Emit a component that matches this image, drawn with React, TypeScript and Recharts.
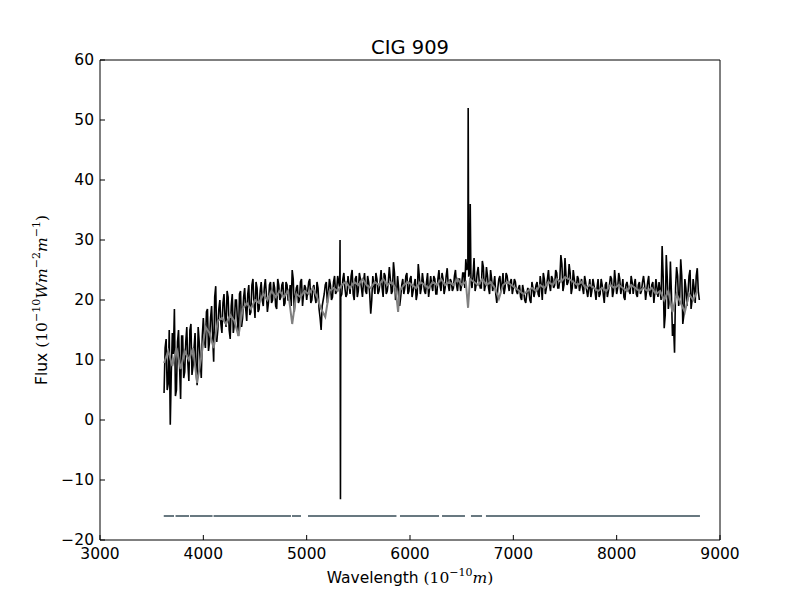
import { Line, LineChart, XAxis, YAxis } from "recharts";

// Spectrum of CIG 909: observed flux (black), smoothed fit (gray) and the
// mask bar along the bottom showing which wavelength ranges were used.

const BLACK_START = 3620;
const BLACK_STEP = 20;
// observed flux, one value every 20 Å from 3620 to 8800
const BLACK_FLUX = [
  4.5, 13.5, 6, -0.8, 14.5, 18.5, 5, 15, 3.5, 14, 8, 15.5, 6.5, 16, 9, 14.5, 5.8, 13, 7, 17,
  12, 18.5, 13, 19, 9.7, 22.3, 15, 20, 14.5, 21, 15.5, 20.5, 13.5, 21, 16, 20, 14, 21.5, 17, 22,
  16.5, 22.5, 18, 23.5, 17, 22, 18.5, 23, 19, 23.5, 18, 22.5, 19.5, 23, 19, 23.5, 20, 22.5, 19, 23,
  20, 22.5, 25, 18, 22, 19.5, 23, 19, 22.5, 20, 23, 19.5, 22, 20.5, 23, 18.5, 15, 20, 22.5, 19.5,
  23.5, 20, 23, 21, 24, 22, 21, 24.5, 20.5, 24, 21, 25, 20, 24, 21.5, 23.5, 20.5, 24.5, 21, 23,
  17.7, 24, 21, 23.5, 21.5, 25, 20.5, 24, 21.5, 25.5, 21, 26.3, 20, 24, 19, 22.5, 21, 24, 21, 23.5,
  20.5, 22.5, 20, 26, 21, 24.5, 21.5, 23, 20.5, 24, 21.5, 23.5, 21, 25, 21.5, 23.5, 22, 25.3, 21.5, 23,
  22, 25, 21.5, 23.5, 22.5, 24.5, 26.8, 26, 25, 22, 27, 22.5, 25.5, 22, 26.5, 21.5, 25.5, 22, 25, 21.5,
  24, 19.5, 23.5, 21.5, 24.5, 22, 24, 21.5, 23.5, 22, 23, 21, 22.5, 20, 21.5, 19.5, 22, 20, 23, 20.5,
  22.5, 21, 24, 20, 23.5, 22, 25, 21.5, 23.5, 22.5, 24.5, 22, 27.5, 21.5, 27, 22.5, 26, 21, 25, 22,
  24, 21.5, 23.5, 21, 23, 20.5, 23.5, 21.5, 22.5, 20, 23.5, 21, 22.5, 19.5, 23, 21.5, 24, 20.5, 25, 21,
  24.5, 21, 23.5, 20, 23, 21.5, 24, 21, 23.5, 20.5, 23, 21.5, 24, 20, 23, 21, 22.5, 19.5, 23.5, 20.5,
  21.5, 29, 15.3, 27.5, 18.5, 26.4, 14, 11.2, 25.5, 19, 26.8, 16, 23.5, 19, 24, 18.5, 23.5, 19.5, 25.3, 20,
];
// the in-between samples, every 20 Å from 3630 to 8790
const BLACK_MID_START = 3630;
const BLACK_MID_FLUX = [
  12, 5, 15, 8, 11, 4, 13, 9, 14,
  7, 13, 9.5, 15, 7.5, 12, 8, 15.5, 10, 14,
  13.5, 18, 11.5, 17, 14, 20.5, 13, 18.5, 16, 19.5,
  17, 21.5, 15, 19, 14.5, 20, 16.5, 21, 15.5, 20.5,
  18.5, 21, 17.5, 22.5, 19.5, 23, 18, 21.5, 20, 22,
  21, 19.5, 23, 20, 22, 18.5, 22.5, 20.5, 23, 19.5,
  22.5, 20, 19, 23.5, 20.5, 22.5, 20, 23.5, 21, 22,
  21.5, 23.5, 20, 22.5, 19.5, 22, 17, 19, 21, 23,
  21, 22.5, 20.5, 24, 21.5, 23, 20.5, 23.5, 22, 21,
  22.5, 24, 21, 23.5, 20.5, 24.5, 22, 23, 21.5, 24,
  21, 20, 22.5, 24.5, 21, 23, 22, 24.5, 21, 23,
  23.5, 21.5, 24.5, 21, 22, 20.5, 23.5, 22, 24.5, 21.5,
  24, 21.5, 23.5, 21, 24, 22, 23, 21, 24.5, 22,
  22.5, 24, 21, 23.5, 22.5, 24.5, 21, 24, 22.5, 23.5,
  21.5, 24, 22.5, 23.5, 21.5, 24.5, 22, 25, 24, 23,
  24, 21.5, 24.5, 23, 22, 25.5, 22.5, 24, 21, 23.5,
  22.5, 21, 22, 24, 22.5, 21, 24.5, 22.5, 23, 21,
  23.5, 21.5, 22, 20.5, 22.5, 20, 21, 21.5, 19.5, 22,
  21.5, 23, 20.5, 22.5, 24.5, 21, 23.5, 22.5, 24, 22,
  25, 22, 23.5, 26, 22.5, 24, 23, 24.5, 22, 23.5,
  22, 23.5, 22.5, 22, 24, 21.5, 22, 20.5, 23.5, 21.5,
  22, 20.5, 23.5, 21, 22.5, 20.5, 22.5, 23.5, 21.5, 23,
  22, 23.5, 22, 20.5, 22.5, 22, 21, 23, 22.5, 21,
  22.5, 21, 23, 22.5, 21.5, 24, 20.5, 23, 21.5, 22,
  23, 20, 24, 17.5, 23.5, 20, 21, 16, 22, 24,
  20.5, 24, 17.5, 22, 21, 25, 20, 22, 24, 21.5,
];
// narrow emission/artefact lines that fall between the samples
const BLACK_SPIKES = [
  { wl: 5323, flux: 30 },
  { wl: 5327, flux: -13.2 },
  { wl: 6563, flux: 52 },
  { wl: 6568, flux: 24 },
  { wl: 6583, flux: 36 },
];

const GRAY_START = 3620;
const GRAY_STEP = 40;
// smoothed model, one value every 40 Å
const GRAY_FLUX = [
  9.5, 11.5, 9, 12, 8.5, 11.5, 10, 12, 6.2, 10.5, 15.5, 14.5, 12, 16.5, 17, 16, 17.5, 16.5, 14, 18.5,
  19.5, 18.5, 20, 19.5, 21, 20, 21.5, 20.5, 21.5, 20.5, 21.5, 16, 21, 20.5, 21.5, 21, 22, 20.5, 18.5, 17.2,
  21.5, 22, 21.5, 22.5, 23, 22, 23, 22.5, 23.5, 22.5, 22, 23, 22.5, 23.5, 22.5, 23, 22, 21.5, 22.5, 23,
  22.5, 22, 23, 22.5, 22, 23, 22.5, 23.5, 22.5, 23, 22.5, 23.5, 22.5, 23, 23.5, 23, 22.5, 23.5, 22.5, 23,
  22, 20.2, 22.5, 23, 22.5, 22, 21.5, 21, 21.5, 22, 21.5, 22.5, 22, 23, 22.5, 23.5, 23, 23.8, 23.5, 23,
  22.5, 23, 22, 22.5, 22, 21.5, 22, 21.5, 22.5, 22, 22.5, 22, 21.5, 22.5, 22, 21.5, 22, 21.5, 22, 21,
  21.5, 20, 21.5, 18, 21, 19.5, 18, 21, 20, 21.5,
];
const GRAY_DIPS = [
  { wl: 5885, flux: 18 },
  { wl: 6562, flux: 18.7 },
];

// wavelength ranges kept by the mask (drawn at flux = -16)
const MASK_LEVEL = -16;
const MASK_SEGMENTS: [number, number][] = [
  [3617, 3716],
  [3731, 3862],
  [3871, 4089],
  [4099, 4848],
  [4858, 4945],
  [5013, 5869],
  [5903, 6281],
  [6310, 6532],
  [6590, 6697],
  [6735, 8806],
];

const X_TICKS = [3000, 4000, 5000, 6000, 7000, 8000, 9000];
const Y_TICKS = [-20, -10, 0, 10, 20, 30, 40, 50, 60];

const byWl = (a: { wl: number }, b: { wl: number }) => a.wl - b.wl;

const blackData = BLACK_FLUX.map((flux, i) => ({ wl: BLACK_START + i * BLACK_STEP, flux }))
  .concat(BLACK_MID_FLUX.map((flux, i) => ({ wl: BLACK_MID_START + i * BLACK_STEP, flux })))
  .concat(BLACK_SPIKES)
  .sort(byWl);
const grayData = GRAY_FLUX.map((flux, i) => ({ wl: GRAY_START + i * GRAY_STEP, flux }))
  .concat(GRAY_DIPS)
  .sort(byWl);
const maskData = MASK_SEGMENTS.flatMap(([a, b]) => [
  { wl: a, flux: MASK_LEVEL },
  { wl: b, flux: MASK_LEVEL },
  { wl: b, flux: null },
]);

// plot box in page pixels (chart sits at the page origin)
const LEFT = 100;
const RIGHT = 720;
const TOP = 60;
const BOTTOM = 540;
const TICK_LEN = 5;
const AXIS_PAD = 10;

const SANS = "'DejaVu Sans', sans-serif";
const MATH = "'DejaVu Serif', serif";

const fmt = (v: number) => (v < 0 ? `\u2212${-v}` : `${v}`);

function BottomTick({ x, payload }: any) {
  return (
    <g>
      <line x1={x} x2={x} y1={BOTTOM} y2={BOTTOM - TICK_LEN} stroke="#000" />
      <text x={x} y={BOTTOM + 18.5} textAnchor="middle" fontFamily={SANS} fontSize={15.5} fill="#000">
        {payload.value}
      </text>
    </g>
  );
}

function TopTick({ x }: any) {
  return <line x1={x} x2={x} y1={TOP} y2={TOP + TICK_LEN} stroke="#000" />;
}

function LeftTick({ y, payload }: any) {
  return (
    <g>
      <line x1={LEFT} x2={LEFT + TICK_LEN} y1={y} y2={y} stroke="#000" />
      <text x={LEFT - 6} y={y + 5} textAnchor="end" fontFamily={SANS} fontSize={15.5} fill="#000">
        {fmt(payload.value)}
      </text>
    </g>
  );
}

function RightTick({ y }: any) {
  return <line x1={RIGHT} x2={RIGHT - TICK_LEN} y1={y} y2={y} stroke="#000" />;
}

export default function App() {
  return (
    <div style={{ position: "absolute", left: 0, top: 0, width: 800, height: 600, background: "#fff" }}>
      <LineChart
        width={800}
        height={600}
        margin={{
          top: TOP - AXIS_PAD,
          right: 800 - RIGHT - AXIS_PAD,
          bottom: 600 - BOTTOM - AXIS_PAD,
          left: LEFT - AXIS_PAD,
        }}
      >
        <XAxis
          type="number"
          dataKey="wl"
          domain={[3000, 9000]}
          ticks={X_TICKS}
          allowDataOverflow
          height={AXIS_PAD}
          tickSize={0}
          tick={BottomTick}
          axisLine={{ stroke: "#000" }}
          interval={0}
        />
        <XAxis
          xAxisId="top"
          orientation="top"
          type="number"
          dataKey="wl"
          domain={[3000, 9000]}
          ticks={X_TICKS}
          height={AXIS_PAD}
          tickSize={0}
          tick={TopTick}
          axisLine={{ stroke: "#000" }}
          interval={0}
        />
        <YAxis
          type="number"
          domain={[-20, 60]}
          ticks={Y_TICKS}
          allowDataOverflow
          width={AXIS_PAD}
          tickSize={0}
          tick={LeftTick}
          axisLine={{ stroke: "#000" }}
          interval={0}
        />
        <YAxis
          yAxisId="right"
          orientation="right"
          type="number"
          domain={[-20, 60]}
          ticks={Y_TICKS}
          width={AXIS_PAD}
          tickSize={0}
          tick={RightTick}
          axisLine={{ stroke: "#000" }}
          interval={0}
        />
        <Line
          data={blackData}
          dataKey="flux"
          stroke="#000"
          strokeWidth={1.6}
          dot={false}
          isAnimationActive={false}
        />
        <Line
          data={grayData}
          dataKey="flux"
          stroke="#808080"
          strokeWidth={2}
          dot={false}
          isAnimationActive={false}
        />
        <Line
          data={maskData}
          dataKey="flux"
          stroke="#687880"
          strokeWidth={2}
          dot={false}
          connectNulls={false}
          isAnimationActive={false}
        />
        <text x={(LEFT + RIGHT) / 2} y={54} textAnchor="middle" fontFamily={SANS} fontSize={19.5} fill="#000">
          CIG 909
        </text>
        <text x={(LEFT + RIGHT) / 2} y={583} textAnchor="middle" fontFamily={SANS} fontSize={15.5} fill="#000">
          Wavelength{" "}
          <tspan fontFamily={MATH}>(10</tspan>
          <tspan fontFamily={MATH} fontSize={11} dy={-7}>
            {"\u221210"}
          </tspan>
          <tspan fontFamily={MATH} fontStyle="italic" dy={7}>
            m
          </tspan>
          <tspan fontFamily={MATH}>)</tspan>
        </text>
        <text
          transform="translate(47,300) rotate(-90)"
          textAnchor="middle"
          fontFamily={SANS}
          fontSize={15.5}
          fill="#000"
        >
          Flux{" "}
          <tspan fontFamily={MATH}>(10</tspan>
          <tspan fontFamily={MATH} fontSize={11} dy={-7}>
            {"\u221210"}
          </tspan>
          <tspan fontFamily={MATH} fontStyle="italic" dy={7}>
            {"Wm"}
          </tspan>
          <tspan fontFamily={MATH} fontSize={11} dy={-7}>
            {"\u22122"}
          </tspan>
          <tspan fontFamily={MATH} fontStyle="italic" dy={7}>
            m
          </tspan>
          <tspan fontFamily={MATH} fontSize={11} dy={-7}>
            {"\u22121"}
          </tspan>
          <tspan fontFamily={MATH} dy={7}>
            )
          </tspan>
        </text>
      </LineChart>
    </div>
  );
}
